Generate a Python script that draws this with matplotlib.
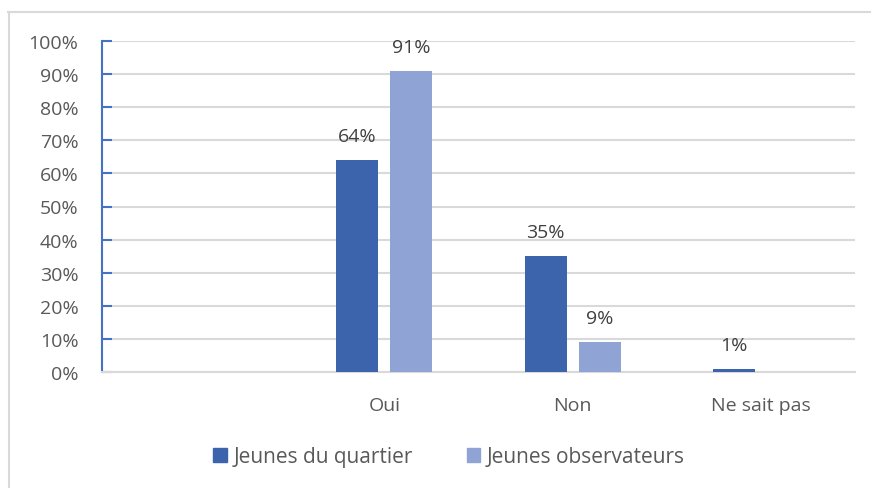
import matplotlib
matplotlib.use("Agg")
import matplotlib.pyplot as plt
from matplotlib.lines import Line2D
from matplotlib.patches import Patch
import numpy as np

categories = ["", "Oui", "Non", "Ne sait pas"]
series_names = ["Jeunes du quartier", "Jeunes observateurs"]
quartier = [None, 64, 35, 1]
observateurs = [None, 91, 9, 0]
yticks = [0, 10, 20, 30, 40, 50, 60, 70, 80, 90, 100]

dark = "#3C64AC"
light = "#8FA4D4"
textc = "#595959"
fs = 14

plt.rcParams['font.family'] = ['Open Sans', 'DejaVu Sans']

W, H = 871, 489
fig = plt.figure(figsize=(W/100, H/100), dpi=100)
ax = fig.add_axes([102/W, 1-373/H, (855-102)/W, (373-42)/H])

x = np.arange(len(categories))
bw = 42/188
gap = 12/188
for vals, col, off in [(quartier, dark, -(bw+gap)/2), (observateurs, light, (bw+gap)/2)]:
    for xi, v in zip(x, vals):
        if v is None or v == 0:
            continue
        ax.bar(xi+off, v, width=bw, color=col, zorder=3)
        ax.text(xi+off, v+4.5, f"{v}%", ha="center", va="bottom", fontsize=fs, color="#404040")

ax.set_xlim(-0.5, len(categories)-0.5)
ax.set_ylim(0, 100)
ax.set_yticks(yticks)
ax.set_yticklabels([f"{t}%" for t in yticks], fontsize=fs, color=textc)
ax.set_xticks(x)
ax.set_xticklabels(categories, fontsize=fs, color=textc)
ax.tick_params(axis='x', length=0, pad=17)
ax.tick_params(axis='y', direction='in', length=7, color="#4472C4", width=1.5, pad=17)
ax.grid(axis='y', color="#D9D9D9", linewidth=1.5, zorder=0)
for s in ["top", "right"]:
    ax.spines[s].set_visible(False)
ax.spines["left"].set_color("#4472C4")
ax.spines["left"].set_linewidth(1.5)
ax.spines["bottom"].set_color("#D9D9D9")
ax.spines["bottom"].set_linewidth(1.5)
ax.set_axisbelow(True)

handles = [Patch(color=dark, label=series_names[0]), Patch(color=light, label=series_names[1])]
leg = fig.legend(handles=handles, loc="center", bbox_to_anchor=(449/W, 1-458/H), ncol=2, frameon=False,
                 fontsize=15, handlelength=0.65, handleheight=0.65, handletextpad=0.3, columnspacing=2.6)
for t in leg.get_texts():
    t.set_color(textc)

fig.add_artist(Line2D([8/W, 1], [1-13/H, 1-13/H], color="#D9D9D9", linewidth=1.5, transform=fig.transFigure))
fig.add_artist(Line2D([9/W, 9/W], [0, 1-13/H], color="#D9D9D9", linewidth=1.5, transform=fig.transFigure))

fig.savefig("out.png", dpi=100)
